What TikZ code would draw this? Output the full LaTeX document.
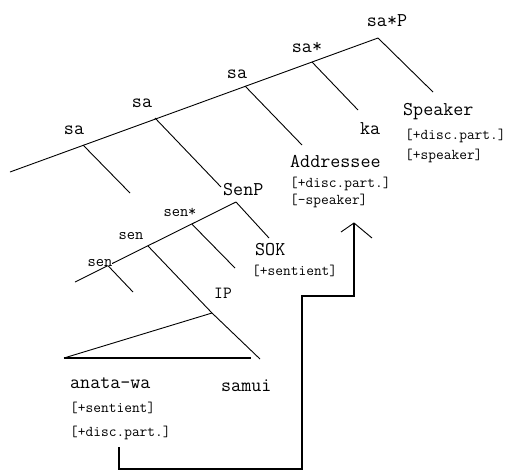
\documentclass[tikz,border=0pt]{standalone}
\usepackage{fontspec}
\setmainfont{Latin Modern Mono}
\begin{document}
\begin{tikzpicture}[x=1pt,y=-1pt,
  br/.style={line width=0.9pt},
  thick2/.style={line width=1.6pt},
  lab/.style={inner sep=0pt, font=\fontsize{19.5}{22}\selectfont, anchor=base},
  labw/.style={lab, anchor=base west},
  feat/.style={inner sep=0pt, font=\fontsize{15}{17}\selectfont, anchor=base west},
  smalllab/.style={inner sep=0pt, font=\fontsize{16}{18}\selectfont, anchor=base, fill=white}]
\useasboundingbox (0,0) rectangle (508,471);
% upper spine
\coordinate (L0) at (10,172);
\coordinate (S1) at (83,145);
\coordinate (S2) at (155,118);
\coordinate (S3) at (245,86);
\coordinate (S4) at (312,62);
\coordinate (SP) at (378,38);
\coordinate (E1) at (130,193);
\coordinate (E2) at (221,187);
\coordinate (E3) at (302,145);
\coordinate (E4) at (358,110);
\coordinate (E5) at (433,92);
\draw[br] (L0) -- (SP);
\draw[br] (S1) -- (E1);
\draw[br] (S2) -- (E2);
\draw[br] (S3) -- (E3);
\draw[br] (S4) -- (E4);
\draw[br] (SP) -- (E5);
% lower spine
\coordinate (A0) at (75,282);
\coordinate (SNP) at (236,202);
\coordinate (N1) at (108,265.7);
\coordinate (N2) at (148,246);
\coordinate (N3) at (192,224.2);
\coordinate (F1) at (133,292);
\coordinate (F3) at (235,268);
\coordinate (FS) at (269,238);
\coordinate (IPp) at (212,313);
\coordinate (F2) at (260,359);
\coordinate (TL) at (64,358);
\coordinate (TR) at (251,358);
\draw[br] (A0) -- (SNP);
\draw[br] (N1) -- (F1);
\draw[br] (N2) -- (IPp) -- (F2);
\draw[br] (N3) -- (F3);
\draw[br] (SNP) -- (FS);
\draw[br] (IPp) -- (TL);
\draw[thick2] (TL) -- (TR);
% labels upper
\node[lab] (saP) at (387,27) {sa*P};
\node[lab] (sast) at (307,52) {sa*};
\node[lab] (sa3) at (237,78) {sa};
\node[lab] (sa2) at (142,107) {sa};
\node[lab] (sa1) at (74,134) {sa};
\node[labw] (ka) at (360,134) {ka};
\node[labw] (spk) at (403,115) {Speaker};
\node[feat] (spkf1) at (405,139) {[+disc.part.]};
\node[feat] (spkf2) at (405,159) {[+speaker]};
\node[labw] (addr) at (290,167) {Addressee};
\node[feat] (addrf1) at (290,187) {[+disc.part.]};
\node[feat] (addrf2) at (290,204) {[-speaker]};
\node[labw] (senp) at (223,195) {SenP};
% labels lower
\node[smalllab] (senst) at (180,216) {sen*};
\node[smalllab] (sen2) at (131,239) {sen};
\node[smalllab] (sen1) at (100,266) {sen};
\node[labw] (sok) at (255,255) {SOK};
\node[feat] (sokf) at (252,275) {[+sentient]};
\node[lab, font=\fontsize{17}{19}\selectfont] (ip) at (223,298) {IP};
\node[labw] (anata) at (70,388) {anata-wa};
\node[feat] (anf1) at (70,412) {[+sentient]};
\node[feat] (anf2) at (70,436) {[+disc.part.]};
\node[labw] (samui) at (221,391) {samui};
% arrow
\coordinate (R0) at (119,447);
\coordinate (R1) at (119,469);
\coordinate (R2) at (302,469);
\coordinate (R3) at (302,296);
\coordinate (R4) at (354,296);
\coordinate (Tip) at (354,223);
\coordinate (HL) at (341,232);
\coordinate (HR) at (372,238);
\draw[line width=1.4pt] (R0) -- (R1) -- (R2) -- (R3) -- (R4) -- (Tip);
\draw[br] (HL) -- (Tip) -- (HR);
\end{tikzpicture}
\end{document}
